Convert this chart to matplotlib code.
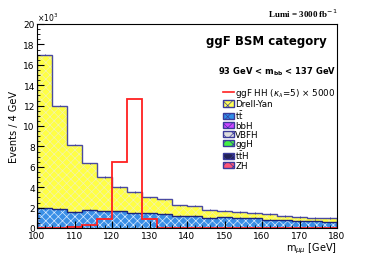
import numpy as np
import matplotlib.pyplot as plt
from matplotlib.patches import Patch
from matplotlib.lines import Line2D

edges = np.arange(100, 181, 4)
# values in units of 10^3 events
total = [17.0, 12.0, 8.17, 6.34, 5.03, 3.99, 3.53, 3.0, 2.81, 2.22,
         2.19, 1.80, 1.70, 1.54, 1.50, 1.37, 1.20, 1.05, 1.00, 0.95]
ttbar = [1.93, 1.86, 1.57, 1.80, 1.64, 1.64, 1.50, 1.45, 1.37, 1.20,
         1.20, 0.98, 1.05, 1.00, 1.00, 0.82, 0.75, 0.72, 0.72, 0.56]
signal = [0.0, 0.0, 0.05, 0.3, 0.9, 6.5, 12.6, 0.9, 0.0, 0.0,
          0.0, 0.0, 0.0, 0.0, 0.0, 0.0, 0.0, 0.0, 0.0, 0.0]

plt.rcParams['hatch.linewidth'] = 0.5
fig = plt.figure(figsize=(3.74, 2.55), dpi=100)
ax = fig.add_axes([37 / 374, 1 - 229 / 255, 300 / 374, 204 / 255])

ax.stairs(total, edges, baseline=ttbar, fill=True, facecolor='#ffff44',
          edgecolor='#f2f2b0', hatch='xxxx', linewidth=0)
ax.stairs(ttbar, edges, fill=True, facecolor='#3a8fe6',
          edgecolor='#d8eaff', hatch='xxxx', linewidth=0)
ax.stairs(ttbar, edges, color='#1a237e', linewidth=1.0)
ax.stairs(total, edges, color='#4a4aa0', linewidth=1.0)
ax.stairs(signal, edges, color='#ff2020', linewidth=1.3)

centers = (edges[:-1] + edges[1:]) / 2
ax.errorbar(centers, total, yerr=0.08, fmt='none', ecolor='#3a3a9a', elinewidth=0.6)
ax.errorbar(centers, ttbar, yerr=0.06, fmt='none', ecolor='#1a237e', elinewidth=0.6)

ax.set_xlim(100, 180)
ax.set_ylim(0, 20)
ax.set_xticks(np.arange(100, 181, 10))
ax.set_xticks(np.arange(100, 181, 2), minor=True)
ax.set_yticks(np.arange(0, 21, 2))
ax.set_yticks(np.arange(0, 20.1, 0.5), minor=True)
ax.tick_params(which='both', direction='in', top=False, right=False, labelsize=6.5)
ax.tick_params(axis='y', pad=1.5)
ax.tick_params(axis='x', pad=2.5)
ax.tick_params(which='major', length=5)
ax.tick_params(which='minor', length=2.5)
for s in ax.spines.values():
    s.set_linewidth(0.8)

ax.set_xlabel(r'm$_{\mu\mu}$ [GeV]', fontsize=7, loc='right', labelpad=0)
ax.set_ylabel('Events / 4 GeV', fontsize=7, labelpad=3)
ax.text(0.0, 1.005, r'$\times10^3$', transform=ax.transAxes, fontsize=5.5, va='bottom')

fig.text(338 / 374, 1 - 14 / 255, r'Lumi = 3000 fb$^{-1}$', family='Liberation Serif',
         fontweight='bold', fontsize=6.5, ha='right', va='center')
ax.text(0.965, 0.92, 'ggF BSM category', transform=ax.transAxes, fontsize=8.5,
        fontweight='bold', ha='right', va='center')
ax.text(0.998, 0.77, r'93 GeV < m$_{\mathbf{bb}}$ < 137 GeV', transform=ax.transAxes,
        fontsize=6, fontweight='bold', ha='right', va='center')

handles = [
    Line2D([], [], color='#ff2020', linewidth=1.2),
    Patch(facecolor='#ffff55', edgecolor='#3a3a9a', hatch='xxx'),
    Patch(facecolor='#2f8fe8', edgecolor='#3a3a9a', hatch='xxx'),
    Patch(facecolor='#cc44ff', edgecolor='#3a3a9a', hatch='xxx'),
    Patch(facecolor='#dddddd', edgecolor='#3a3a9a', hatch='xxx'),
    Patch(facecolor='#44ee44', edgecolor='#3a3a9a', hatch='xxx'),
    Patch(facecolor='#222255', edgecolor='#3a3a9a', hatch='xxx'),
    Patch(facecolor='#ff5577', edgecolor='#3a3a9a', hatch='xxx'),
]
labels = [r'ggF HH ($\kappa_\lambda$=5) $\times$ 5000', 'Drell-Yan', r'$\mathrm{t\bar{t}}$',
          'bbH', 'VBFH', 'ggH', r'$\mathrm{t\bar{t}H}$', 'ZH']
ax.legend(handles, labels, loc='upper left', bbox_to_anchor=(0.62, 0.695), fontsize=6.3,
          frameon=False, handlelength=1.2, handleheight=0.8, handletextpad=0.2,
          labelspacing=0.0, borderpad=0, borderaxespad=0)

fig.savefig('out.png', dpi=100)
